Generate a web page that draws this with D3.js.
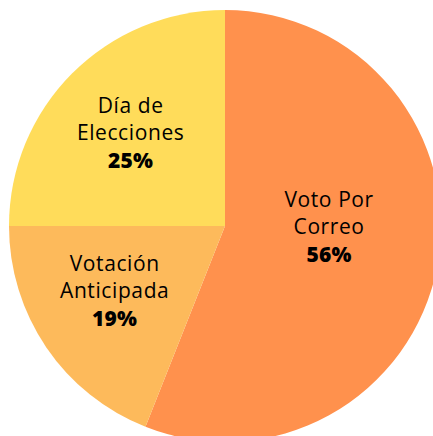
<!DOCTYPE html>
<html>
<head>
<meta charset="utf-8">
<script src="https://cdn.jsdelivr.net/npm/d3@7"></script>
<style>
  html, body { margin: 0; padding: 0; background: #fff; }
  svg { display: block; }
</style>
</head>
<body>
<div id="chart"></div>
<script>
// data
const categories = ["Voto Por Correo", "Votación Anticipada", "Día de Elecciones"];
const labelLines = [["Voto Por", "Correo"], ["Votación", "Anticipada"], ["Día de", "Elecciones"]];
const values = [56, 19, 25];
const colors = ["#FF914D", "#FDBA5B", "#FFDC5A"];

document.addEventListener('DOMContentLoaded', function() {
    const width = 433, height = 436;
    const cx = 225, cy = 226, radius = 216;

    const svg = d3.select('#chart').append('svg')
        .attr('width', width)
        .attr('height', height);

    const g = svg.append('g').attr('transform', `translate(${cx},${cy})`);

    const pie = d3.pie().sort(null).value(d => d);
    const arcs = pie(values);

    const arc = d3.arc().innerRadius(0).outerRadius(radius);

    g.selectAll('.slice')
        .data(arcs)
        .enter().append('path')
        .attr('class', 'slice')
        .attr('d', arc)
        .attr('fill', (d, i) => colors[i]);

    // labels sit around the centroid, nudged a bit per slice
    const nudge = [[-2, -39], [-21, -16], [-18, -37]];
    const lineH = 27;

    const labels = g.selectAll('.label')
        .data(arcs)
        .enter().append('text')
        .attr('class', 'label')
        .attr('text-anchor', 'middle')
        .attr('font-family', '"Open Sans", sans-serif')
        .attr('font-size', '21px')
        .attr('font-weight', 500)
        .attr('letter-spacing', '0.6px')
        .attr('fill', '#000')
        .attr('transform', (d, i) => {
            const c = arc.centroid(d);
            return `translate(${c[0] + nudge[i][0]},${c[1] + nudge[i][1]})`;
        });

    labels.each(function(d, i) {
        const t = d3.select(this);
        labelLines[i].forEach((line, j) => {
            t.append('tspan')
                .attr('x', 0)
                .attr('y', j * lineH)
                .text(line);
        });
        t.append('tspan')
            .attr('x', 0)
            .attr('y', 2 * lineH + 1)
            .attr('font-weight', 800)
            .attr('letter-spacing', '0.2px')
            .text(values[i] + '%');
    });
});
</script>
</body>
</html>
